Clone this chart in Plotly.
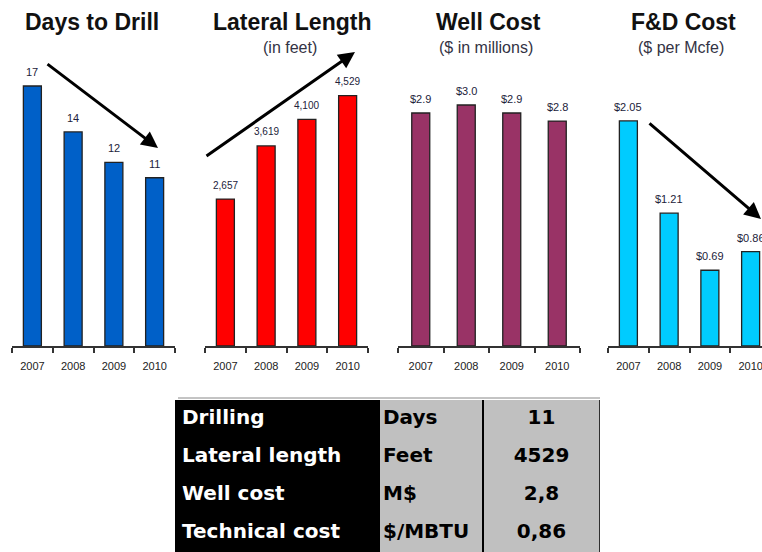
import plotly.graph_objects as go

W, H = 762, 552

years = ["2007", "2008", "2009", "2010"]
days_to_drill = [17, 14, 12, 11]
lateral_length = [2657, 3619, 4100, 4529]
well_cost = [2.9, 3.0, 2.9, 2.8]
fd_cost = [2.05, 1.21, 0.69, 0.86]

days_labels = ["17", "14", "12", "11"]
lateral_labels = ["2,657", "3,619", "4,100", "4,529"]
well_labels = ["$2.9", "$3.0", "$2.9", "$2.8"]
fd_labels = ["$2.05", "$1.21", "$0.69", "$0.86"]

titles = ["Days to Drill", "Lateral Length", "Well Cost", "F&D Cost"]
subtitles = ["", "(in feet)", "($ in millions)", "($ per Mcfe)"]

table_labels = ["Drilling", "Lateral length", "Well cost", "Technical cost"]
table_units = ["Days", "Feet", "M$", "$/MBTU"]
table_values = ["11", "4529", "2,8", "0,86"]


def px(x):
    return x / W


def py(y):
    return 1 - y / H


panels = [
    dict(vals=days_to_drill, labels=days_labels, color="#0060c8", x0=12, x1=175, ymax=18.7, fs=11),
    dict(vals=lateral_length, labels=lateral_labels, color="#ff0000", x0=205, x1=368, ymax=5172, fs=10),
    dict(vals=well_cost, labels=well_labels, color="#993366", x0=398, x1=580, ymax=3.56, fs=11),
    dict(vals=fd_cost, labels=fd_labels, color="#00ccff", x0=608, x1=771, ymax=2.605, fs=11),
]

fig = go.Figure()
annotations = []
base_y = 346
top_y = 60

for i, p in enumerate(panels):
    n = i + 1
    xa = "x" if n == 1 else f"x{n}"
    ya = "y" if n == 1 else f"y{n}"
    catw = (p["x1"] - p["x0"]) / 4.0
    fig.add_trace(go.Bar(
        x=years, y=p["vals"], xaxis=xa, yaxis=ya,
        marker=dict(color=p["color"], line=dict(color="#222222", width=1.3)),
        width=18.0 / catw, hoverinfo="skip",
    ))
    x1 = min(p["x1"], W)
    rng_hi = -0.5 + (x1 - p["x0"]) / catw
    axkey = "xaxis" if n == 1 else f"xaxis{n}"
    aykey = "yaxis" if n == 1 else f"yaxis{n}"
    fig.update_layout(**{
        axkey: dict(domain=[px(p["x0"]), px(x1)], anchor=ya, type="category",
                    range=[-0.5, rng_hi], showline=True, linecolor="#333333", linewidth=1.5,
                    ticks="outside", tickson="boundaries", ticklen=5, tickcolor="#333333",
                    tickwidth=1.5, showgrid=False, zeroline=False,
                    tickfont=dict(family="Liberation Sans", size=11, color="#222222"),
                    ticklabelstandoff=9, fixedrange=True),
        aykey: dict(domain=[py(base_y), py(top_y)], anchor=xa, range=[0, p["ymax"]],
                    visible=False, fixedrange=True),
    })
    for j, (v, lab) in enumerate(zip(p["vals"], p["labels"])):
        annotations.append(dict(
            x=j, y=v, xref=xa, yref=ya, text=lab, showarrow=False,
            yanchor="middle", yshift=14,
            font=dict(family="Liberation Sans", size=p["fs"], color="#22223a"),
        ))

title_cx = [92, 292, 488, 683]
for cx, t, s in zip(title_cx, titles, subtitles):
    annotations.append(dict(x=px(cx), y=py(22), xref="paper", yref="paper", text=f"<b>{t}</b>",
                            showarrow=False, xanchor="center", yanchor="middle",
                            font=dict(family="Liberation Sans", size=23, color="#111111")))
    if s:
        annotations.append(dict(x=px(cx - 2), y=py(47), xref="paper", yref="paper", text=s,
                                showarrow=False, xanchor="center", yanchor="middle",
                                font=dict(family="Liberation Sans", size=16, color="#333344")))

# trend arrows
arrows = [((46, 63), (158, 148)), ((205, 157), (355, 52)), ((648, 122), (770, 219))]
for (tx, ty), (hx, hy) in arrows:
    annotations.append(dict(x=px(hx), y=py(hy), xref="paper", yref="paper",
                            ax=tx - hx, ay=ty - hy, axref="pixel", ayref="pixel",
                            showarrow=True, arrowhead=2, arrowsize=1.1, arrowwidth=3,
                            arrowcolor="#000000", text=""))

# summary table drawn as heatmap cells + text on its own axes
col_edges = [0, 205, 308, 425]
row_edges = [0, 1, 2, 3, 4]
zcells = [[0, 1, 1] for _ in table_labels]
fig.add_trace(go.Heatmap(
    x=col_edges, y=row_edges, z=zcells, xaxis="x5", yaxis="y5",
    colorscale=[[0, "#000000"], [1, "#c0c0c0"]], zmin=0, zmax=1,
    showscale=False, hoverinfo="skip",
))
rows = list(range(len(table_labels)))
tfont = "DejaVu Sans"
tsize = 20
fig.add_trace(go.Scatter(
    x=[7] * len(rows), y=[r + 0.5 for r in rows], mode="text",
    text=[f"<b>{t}</b>" for t in table_labels], textposition="middle right",
    textfont=dict(family=tfont, size=tsize, color="#ffffff"),
    xaxis="x5", yaxis="y5", hoverinfo="skip",
))
fig.add_trace(go.Scatter(
    x=[208] * len(rows), y=[r + 0.5 for r in rows], mode="text",
    text=[f"<b>{t}</b>" for t in table_units], textposition="middle right",
    textfont=dict(family=tfont, size=tsize, color="#000000"),
    xaxis="x5", yaxis="y5", hoverinfo="skip",
))
fig.add_trace(go.Scatter(
    x=[366.5] * len(rows), y=[r + 0.5 for r in rows], mode="text",
    text=[f"<b>{t}</b>" for t in table_values], textposition="middle center",
    textfont=dict(family=tfont, size=tsize, color="#000000"),
    xaxis="x5", yaxis="y5", hoverinfo="skip",
))
fig.update_layout(
    xaxis5=dict(domain=[px(175), px(600)], anchor="y5", range=[0, 425], visible=False, fixedrange=True),
    yaxis5=dict(domain=[0, py(400)], anchor="x5", range=[4, 0], visible=False, fixedrange=True),
)

shapes = [
    dict(type="line", xref="x5", yref="y5", x0=308, x1=308, y0=0, y1=4,
         line=dict(color="#000000", width=2)),
    dict(type="line", xref="x5", yref="y5", x0=425, x1=425, y0=0, y1=4,
         line=dict(color="#000000", width=1.5)),
    dict(type="line", xref="paper", yref="paper", x0=px(178), x1=px(600), y0=py(398), y1=py(398),
         line=dict(color="#888888", width=1)),
]

fig.update_layout(
    width=W, height=H, margin=dict(l=0, r=0, t=0, b=0),
    paper_bgcolor="white", plot_bgcolor="white", showlegend=False,
    annotations=annotations, shapes=shapes,
)

fig.write_html("out.html", config={"displayModeBar": False},
               post_script="document.body.style.margin='0';")
